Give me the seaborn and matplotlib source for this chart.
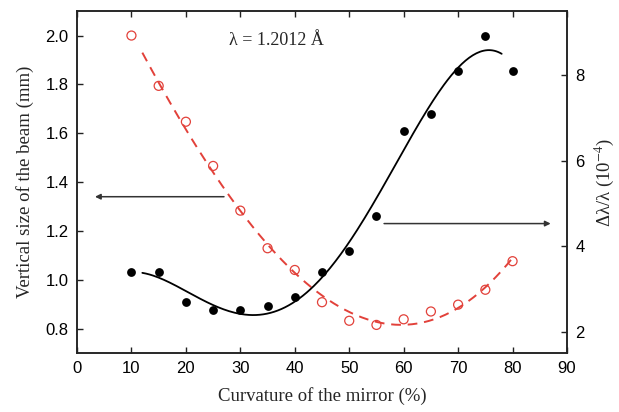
import numpy as np
import pandas as pd
import matplotlib
matplotlib.use("Agg")
import matplotlib.pyplot as plt
import seaborn as sns

# Mirror curvature (%)
curvature = [10, 15, 20, 25, 30, 35, 40, 45, 50, 55, 60, 65, 70, 75, 80]
# Vertical beam size (mm), left axis
beam_size = [2.00, 1.794, 1.647, 1.466, 1.283, 1.129, 1.04, 0.908, 0.832,
             0.815, 0.838, 0.87, 0.898, 0.959, 1.076]
# Relative wavelength spread (1e-4), right axis
dl_over_l = [3.41, 3.41, 2.71, 2.51, 2.51, 2.60, 2.81, 3.41, 3.90, 4.71,
             6.70, 7.10, 8.10, 8.91, 8.10]

x_ticks = [0, 10, 20, 30, 40, 50, 60, 70, 80, 90]
left_ticks = [0.8, 1.0, 1.2, 1.4, 1.6, 1.8, 2.0]
right_ticks = [2, 4, 6, 8]

sns.set_theme(style="ticks")
plt.rcParams["font.family"] = ["Liberation Sans", "DejaVu Sans"]
plt.rcParams["mathtext.fontset"] = "stix"

df = pd.DataFrame({"curv": curvature, "size": beam_size, "dl": dl_over_l})

# Polynomial fits drawn as smooth guide curves
red_fit_x = np.linspace(12, 80, 200)
red_fit = pd.DataFrame({"curv": red_fit_x,
                        "size": np.polyval(np.polyfit(curvature, beam_size, 3), red_fit_x)})
blk_fit_x = np.linspace(12, 78, 200)
blk_fit = pd.DataFrame({"curv": blk_fit_x,
                        "dl": np.polyval(np.polyfit(curvature, dl_over_l, 4), blk_fit_x)})

fig = plt.figure(figsize=(6.19, 4.12), dpi=100)
ax = fig.add_axes([0.1244, 0.1432, 0.7916, 0.8298])
ax2 = ax.twinx()

red = "#e2413a"
sns.lineplot(data=red_fit, x="curv", y="size", ax=ax, color=red, lw=1.4,
             linestyle=(0, (5, 3.5)))
sns.scatterplot(data=df, x="curv", y="size", ax=ax, marker="o", s=42,
                facecolors="none", edgecolor=red, linewidth=0.9, zorder=3)

sns.lineplot(data=blk_fit, x="curv", y="dl", ax=ax2, color="black", lw=1.3)
sns.scatterplot(data=df, x="curv", y="dl", ax=ax2, marker="o", s=40,
                color="black", edgecolor="black", linewidth=0, zorder=3)

ax.set_xlim(0, 90)
ax.set_ylim(0.70, 2.10)
ax2.set_ylim(1.51, 9.49)
ax.set_xticks(x_ticks)
ax.set_yticks(left_ticks)
ax.set_yticklabels([f"{v:.1f}" for v in left_ticks])
ax2.set_yticks(right_ticks)

for a in (ax, ax2):
    for sp in a.spines.values():
        sp.set_visible(True)
        sp.set_linewidth(1.1)
        sp.set_color("#222222")
ax.tick_params(axis="both", direction="in", length=4.5, width=1.0,
               labelsize=12, top=True, right=False, pad=6, colors="#222222",
               labelcolor="black")
ax2.tick_params(axis="y", direction="in", length=4.5, width=1.0,
                labelsize=12, pad=6, colors="#222222", labelcolor="black")

serif = ["Liberation Serif", "DejaVu Serif"]
ax.set_xlabel("Curvature of the mirror (%)", family=serif, fontsize=13.5, labelpad=8)
ax.set_ylabel("Vertical size of the beam (mm)", family=serif, fontsize=13.5, labelpad=8)
ax2.set_ylabel("Δλ/λ (10$^{-4}$)", family=serif, fontsize=13.5,
               rotation=90, labelpad=6)

ax.text(36.6, 1.98, "λ = 1.2012 Å", family=serif, fontsize=13,
        ha="center", va="center")

arrow_style = dict(arrowstyle="-|>", color="#333333", lw=1.1,
                   mutation_scale=8, shrinkA=0, shrinkB=0)
ax.annotate("", xy=(3.3, 1.34), xytext=(27.0, 1.34), arrowprops=arrow_style)
ax.annotate("", xy=(87.0, 1.23), xytext=(56.4, 1.23), arrowprops=arrow_style)

fig.savefig("out.png", dpi=100)
